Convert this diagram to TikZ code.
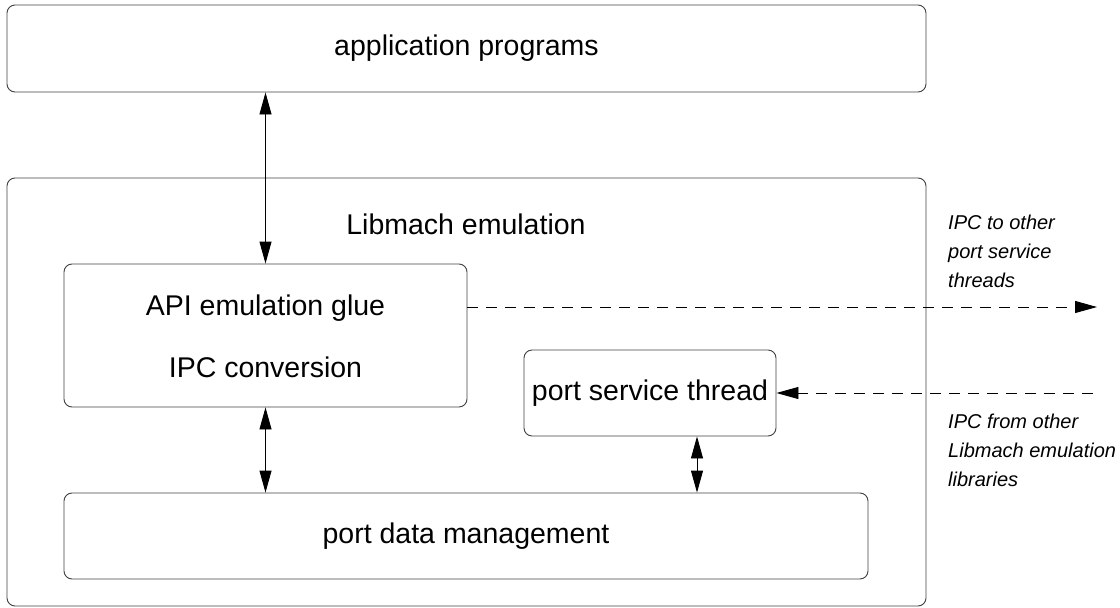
\documentclass[tikz,border=0pt]{standalone}
\usepackage{fontspec}
\setmainfont{Liberation Sans}
\usetikzlibrary{arrows.meta,calc}
\tikzset{myhead/.tip={Triangle[length=22pt,width=12pt]}}
\begin{document}
\begin{tikzpicture}[x=1pt,y=-1pt,
  box/.style={draw=black!75,line width=0.9pt,rounded corners=8pt,inner sep=0pt},
  big/.style={font=\fontsize{28.5}{34}\selectfont},
  note/.style={font=\fontsize{20}{29}\selectfont\itshape,align=left,anchor=west,inner sep=0pt},
  dbl/.style={line width=0.9pt,myhead-myhead},
  dsh/.style={line width=0.9pt,dash pattern=on 11pt off 8pt,-myhead}]
\useasboundingbox (0,0) rectangle (1120,608);
\node[box,minimum width=919pt,minimum height=87pt,big] (top) at (466.5,48.5) {application programs};
\node[box,minimum width=919pt,minimum height=428pt] (outer) at (466.5,392) {};
\node[big] (libl) at (466,224) {Libmach emulation};
\node[box,minimum width=403pt,minimum height=143pt] (api) at (265.5,335.5) {};
\node[big] (apil) at (265.5,308) {API emulation glue};
\node[big] (ipcl) at (265.5,367) {IPC conversion};
\node[box,minimum width=252pt,minimum height=86pt,big] (pst) at (650,393) {port service thread};
\node[box,minimum width=804pt,minimum height=86pt,big] (pdm) at (466,536) {port data management};
\coordinate (outR) at (1097,307);
\coordinate (inR) at (1093,393);
\node[note] (tol) at (948,251) {IPC to other\\port service\\threads};
\node[note] (froml) at (948,450) {IPC from other\\Libmach emulation\\libraries};
\draw[dbl] (api.north) -- (api.north |- top.south);
\draw[dbl] (api.south) -- (api.south |- pdm.north);
\draw[dbl] ([xshift=47pt]pst.south) -- ([xshift=47pt]pst.south |- pdm.north);
\draw[dsh] ([yshift=28.5pt]api.east) -- (outR);
\draw[dsh] (inR) -- (pst.east);
\end{tikzpicture}
\end{document}
